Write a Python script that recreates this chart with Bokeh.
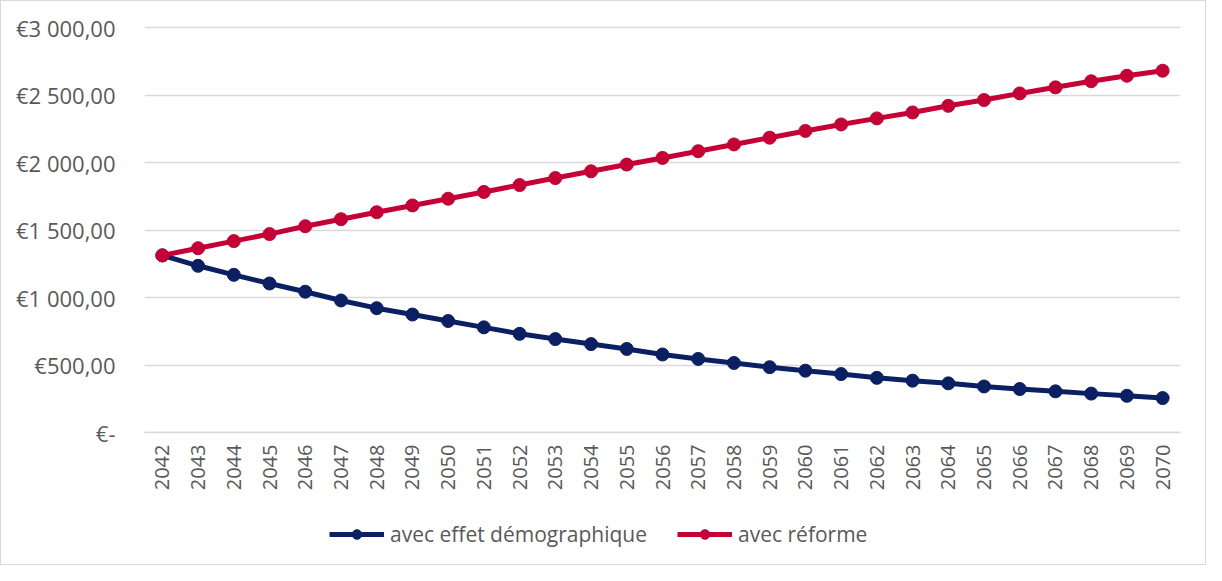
import math
from bokeh.plotting import figure
from bokeh.layouts import column
from bokeh.models import (Range1d, FixedTicker, CustomJSTickFormatter, Legend, LegendItem)
from bokeh.embed import file_html
from bokeh.resources import INLINE

years = list(range(2042, 2071))
avec_reforme = [1312, 1365, 1418, 1470, 1528, 1580, 1632, 1682, 1732, 1782, 1833, 1885, 1935, 1985,
                2034, 2084, 2134, 2184, 2234, 2282, 2327, 2371, 2420, 2463, 2512, 2557, 2602, 2643, 2680]
avec_effet_demo = [1312, 1235, 1168, 1104, 1043, 978, 921, 874, 826, 779, 731, 692, 655, 619,
                   578, 545, 515, 484, 458, 433, 405, 384, 364, 341, 322, 305, 288, 272, 255]
y_ticks = [0, 500, 1000, 1500, 2000, 2500, 3000]
series_names = ["avec effet démographique", "avec réforme"]

BLUE = "#0b2063"
RED = "#c40035"
FONT = "Open Sans"
TXT = "#595959"
GRID = "#d9d9d9"

p = figure(width=1204, height=503, output_backend="svg", toolbar_location=None,
           x_range=Range1d(2041.5, 2070.5), y_range=Range1d(0, 3104),
           min_border_left=143, min_border_right=25, min_border_top=12, min_border_bottom=72)
p.outline_line_color = None
p.background_fill_color = "white"
p.border_fill_color = "white"

p.xgrid.grid_line_color = None
p.ygrid.grid_line_color = None
# horizontal gridlines drawn as glyphs at the y tick values
p.hspan(y=y_ticks, line_color=GRID, line_width=1.5, level="underlay")

p.line(years, avec_effet_demo, line_color=BLUE, line_width=5)
p.scatter(years, avec_effet_demo, size=13, fill_color=BLUE, line_color=BLUE)
p.line(years, avec_reforme, line_color=RED, line_width=5)
p.scatter(years, avec_reforme, size=13, fill_color=RED, line_color=RED)

p.yaxis.ticker = FixedTicker(ticks=y_ticks)
p.yaxis.formatter = CustomJSTickFormatter(code="""
if (tick == 0) { return "€-"; }
var s = Math.round(tick).toString();
var out = s.replace(/\\B(?=(\\d{3})+(?!\\d))/g, " ");
return "€" + out + ",00";
""")
p.yaxis.axis_line_color = None
p.yaxis.major_tick_line_color = None
p.yaxis.minor_tick_line_color = None
p.yaxis.major_label_standoff = 23
p.yaxis.major_label_text_font = FONT
p.yaxis.major_label_text_font_size = "22px"
p.yaxis.major_label_text_color = TXT

p.xaxis.ticker = FixedTicker(ticks=years)
p.xaxis.major_label_orientation = math.pi / 2
p.xaxis.axis_line_color = GRID
p.xaxis.axis_line_width = 1.5
p.xaxis.major_tick_line_color = None
p.xaxis.minor_tick_line_color = None
p.xaxis.major_label_standoff = 6
p.xaxis.major_label_text_font = FONT
p.xaxis.major_label_text_font_size = "20px"
p.xaxis.major_label_text_color = TXT

# legend strip below the chart (same series, drawn off-view so only the legend shows)
leg = figure(width=1204, height=60, output_backend="svg", toolbar_location=None,
             x_range=Range1d(0, 1), y_range=Range1d(0, 1),
             x_axis_location=None, y_axis_location=None, min_border=0)
leg.outline_line_color = None
leg.xgrid.grid_line_color = None
leg.ygrid.grid_line_color = None
l1 = leg.line(years, avec_effet_demo, line_color=BLUE, line_width=5)
s1 = leg.scatter(years, avec_effet_demo, size=13, fill_color=BLUE, line_color=BLUE)
l2 = leg.line(years, avec_reforme, line_color=RED, line_width=5)
s2 = leg.scatter(years, avec_reforme, size=13, fill_color=RED, line_color=RED)

legend = Legend(items=[LegendItem(label=series_names[0], renderers=[l1, s1]),
                       LegendItem(label=series_names[1], renderers=[l2, s2])],
                orientation="horizontal", location=(185, 16),
                label_text_font=FONT, label_text_font_size="21px", label_text_color=TXT,
                glyph_width=55, glyph_height=24, label_height=24, spacing=30, label_standoff=6,
                border_line_color=None, background_fill_alpha=0, margin=0, padding=0)
leg.add_layout(legend, "center")

layout = column(p, leg, spacing=0)
layout.styles = {"border": "1px solid #d9d9d9"}

open("out.html", "w").write(file_html(layout, INLINE))
